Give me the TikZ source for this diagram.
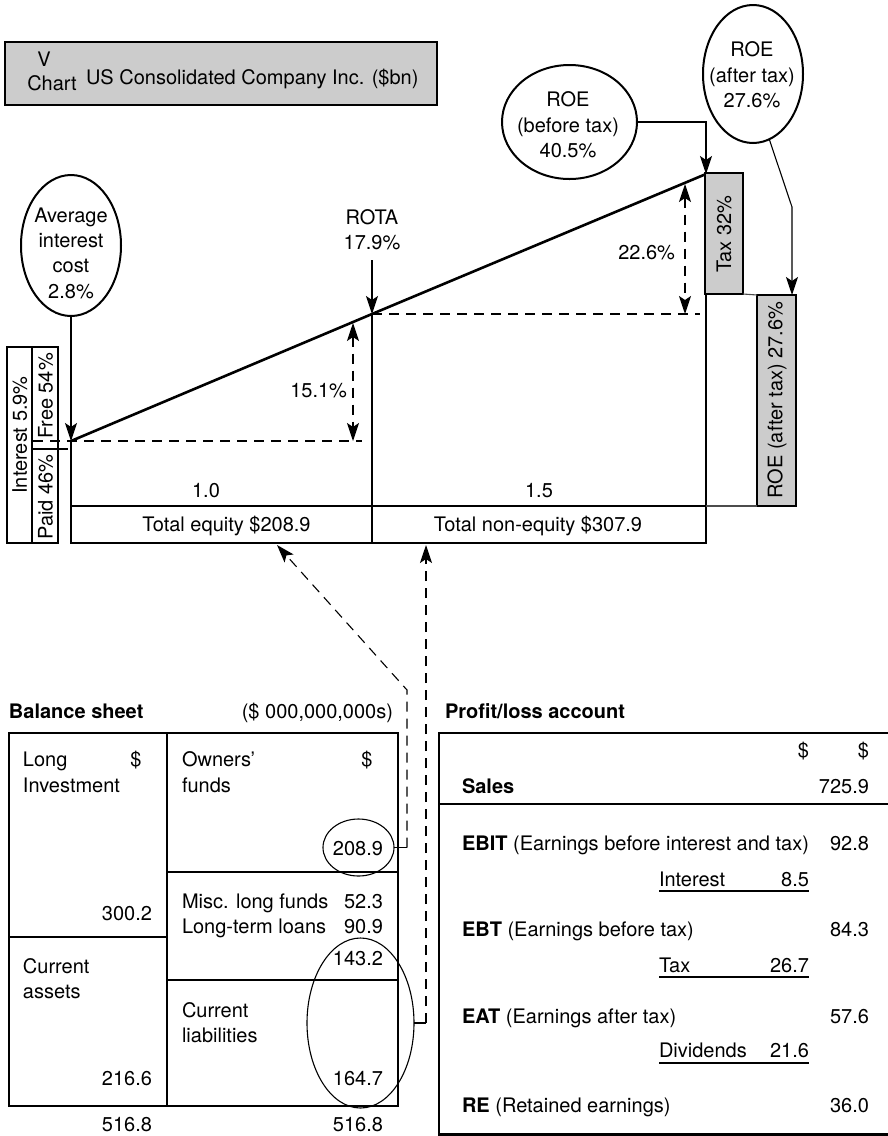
\documentclass[tikz,border=0pt]{standalone}
\usepackage{fontspec}
\setmainfont{TeX Gyre Heros}
\usetikzlibrary{shapes.geometric,arrows.meta}
\definecolor{boxgray}{HTML}{CCCCCC}
\newcommand\fsz{\fontsize{20}{25.3}\selectfont}
\begin{document}
\begin{tikzpicture}[x=1pt,y=-1pt,
  >={Stealth[length=18pt,width=12pt,inset=4pt]},
  every node/.style={font=\fsz, inner sep=0pt, outer sep=0pt},
  thk/.style={line width=2.6pt},
  med/.style={line width=1.6pt},
  thn/.style={line width=1.1pt},
  dsh/.style={line width=1.1pt, dash pattern=on 10pt off 7pt},
  oval/.style={ellipse, draw, line width=2pt},
  soval/.style={ellipse, draw, line width=1.1pt},
  gbox/.style={draw, line width=1.5pt, fill=boxgray},
  lt/.style={anchor=base west},
  rt/.style={anchor=base east},
  ct/.style={anchor=base},
]
\useasboundingbox (0,0) rectangle (887,1136);

% ---------- title ----------
\node[gbox, anchor=north west, minimum width=432pt, minimum height=63pt] (title) at (5,42) {};
\node[ct] (tv) at (44,66) {V};
\node[ct] (tc) at (52,90) {Chart};
\node[lt] (tt) at (86,84) {US Consolidated Company Inc. (\$bn)};

% ---------- V chart ----------
\coordinate (A) at (71,441);
\coordinate (R) at (372,314);
\coordinate (T) at (706,174);
\node[draw, thk, anchor=north west, minimum width=301pt, minimum height=37pt] (teqbox) at (71,506) {};
\node[draw, thk, anchor=north west, minimum width=334pt, minimum height=37pt] (tneqbox) at (372,506) {};
\draw[thk] (A) -- (teqbox.north west);
\draw[thk] (R) -- (teqbox.north east);
\draw[thk] (T) -- (tneqbox.north east);
\draw[thk, line join=round] (A) -- (R) -- (T);

\node[ct] (one) at (206,497) {1.0};
\node[ct] (onefive) at (539,497) {1.5};
\node[ct] (teq) at (226.5,531) {Total equity \$208.9};
\node[ct] (tneq) at (538,531) {Total non-equity \$307.9};

% dashed reference lines
\coordinate (h1a) at (33,441);
\coordinate (h1b) at (362,441);
\coordinate (h2b) at (700,314);
\draw[dsh] (h1a) -- (h1b);
\draw[dsh] (R) -- (h2b);

% dashed double arrows
\coordinate (p1a) at (353,323);
\coordinate (p1b) at (353,441);
\coordinate (p2a) at (685,184);
\coordinate (p2b) at (685,314);
\draw[dsh,<->] (p1a) -- (p1b);
\draw[dsh,<->] (p2a) -- (p2b);
\node[rt] (l151) at (347,397) {15.1\%};
\node[rt] (l226) at (675,259) {22.6\%};

% left interest boxes
\node[draw, med, anchor=north west, minimum width=25pt, minimum height=196pt] (ibox) at (7,347) {};
\node[draw, med, anchor=north west, minimum width=26pt, minimum height=102pt] (fbox) at (32,347) {};
\node[draw, med, anchor=north west, minimum width=26pt, minimum height=94pt] (pbox) at (32,449) {};
\coordinate (fpx) at (68,449);
\draw[thn] (pbox.north west) -- (fpx);
\node[rotate=90] (itxt) at (19.7,435) {Interest 5.9\%};
\node[rotate=90] (ftxt) at (45.5,396) {Free 54\%};
\node[rotate=90] (ptxt) at (45.5,497) {Paid 46\%};

% average interest cost
\node[oval, minimum width=100pt, minimum height=141pt] (aic) at (71,245.5) {};
\node[align=center] (aict) at (71,253) {Average\\interest\\cost\\2.8\%};
\draw[thn,->] (aic.south) -- (A);

% ROTA
\node[align=center] (rota) at (372,229.5) {ROTA\\17.9\%};
\coordinate (rotas) at (372,260);
\draw[thn,->] (rotas) -- (R);

% ROE before tax
\node[oval, minimum width=135pt, minimum height=114pt] (rb) at (569.5,122) {};
\node[align=center] (rbt) at (568,125) {ROE\\(before tax)\\40.5\%};
\draw[thn,->] (rb.east) -| (T);

% tax box and ROE after tax box
\node[gbox, anchor=north west, minimum width=38pt, minimum height=121pt] (taxbox) at (705,173) {};
\node[rotate=90] (taxt) at (724,234) {Tax 32\%};
\node[gbox, anchor=north west, minimum width=39pt, minimum height=211pt] (roebox) at (757,295) {};
\node[rotate=90] (roet) at (777,400) {ROE (after tax) 27.6\%};
\draw[thn, black!70] (taxbox.south east) -- (roebox.north west);
\draw[thn, black!70] (tneqbox.north east) -- (roebox.south west);

% ROE after tax
\node[oval, minimum width=100pt, minimum height=138pt] (ra) at (753,74) {};
\node[align=center] (rat) at (752,75) {ROE\\(after tax)\\27.6\%};
\coordinate (rak) at (792,207);
\coordinate (rtip) at (792,295);
\draw[thn,->] (ra.-76) -- (rak) -- (rtip);

% ---------- balance sheet ----------
\node[lt, font=\fsz\bfseries] (bsh) at (9,718) {Balance sheet};
\node[rt] (bsu) at (393,718) {(\$ 000,000,000s)};
\node[draw, thk, anchor=north west, minimum width=389pt, minimum height=373pt] (bs) at (9,733) {};
\coordinate (bsm1) at (167,733);
\coordinate (bsm2) at (167,1106);
\draw[med] (bsm1) -- (bsm2);
\coordinate (bl1) at (9,937);
\coordinate (bl2) at (167,937);
\draw[med] (bl1) -- (bl2);
\coordinate (br1) at (167,872);
\coordinate (br2) at (398,872);
\coordinate (br3) at (167,980);
\coordinate (br4) at (398,980);
\draw[med] (br1) -- (br2);
\draw[med] (br3) -- (br4);

\node[lt] (b1) at (23,766) {Long};
\node[ct] (b2) at (136,766) {\$};
\node[lt] (b3) at (23,792) {Investment};
\node[rt] (b4) at (152,920) {300.2};
\node[lt] (b5) at (23,973) {Current};
\node[lt] (b6) at (23,998) {assets};
\node[rt] (b7) at (152,1085) {216.6};
\node[lt] (b8) at (182,766) {Owners'};
\node[ct] (b9) at (367,766) {\$};
\node[lt] (b10) at (182,792) {funds};
\node[rt] (b11) at (383,855) {208.9};
\node[lt] (b12) at (182,908) {Misc. long funds};
\node[rt] (b13) at (383,908) {52.3};
\node[lt] (b14) at (182,933) {Long-term loans};
\node[rt] (b15) at (383,933) {90.9};
\node[rt] (b16) at (383,965) {143.2};
\node[lt] (b17) at (182,1017) {Current};
\node[lt] (b18) at (182,1042) {liabilities};
\node[rt] (b19) at (383,1085) {164.7};
\node[rt] (b20) at (152,1131) {516.8};
\node[rt] (b21) at (383,1131) {516.8};

\node[soval, minimum width=71pt, minimum height=57pt] (e1) at (358.5,847.5) {};
\node[soval, minimum width=107pt, minimum height=170pt] (e2) at (360.5,1023) {};

% dashed links to the V chart
\coordinate (d1a) at (407,847.5);
\coordinate (d1b) at (407,690);
\coordinate (d1t) at (277,545);
\draw[thn] (e1.east) -- (d1a);
\draw[dsh,->] (d1a) -- (d1b) -- (d1t);
\coordinate (d2a) at (426,1023);
\coordinate (d2t) at (426,545);
\draw[thn] (e2.east) -- (d2a);
\draw[dsh,->] (d2a) -- (d2t);

% ---------- profit / loss ----------
\node[lt, font=\fsz\bfseries] (plh) at (445,718) {Profit/loss account};
\coordinate (pl1) at (890,733);
\coordinate (pl2) at (439,733);
\coordinate (pl3) at (439,1134.5);
\coordinate (pl4) at (890,1134.5);
\draw[thk] (pl1) -- (pl2) -- (pl3) -- (pl4);
\coordinate (pl5) at (439,804);
\coordinate (pl6) at (890,804);
\draw[med] (pl5) -- (pl6);

\node[rt] (q1) at (809,757) {\$};
\node[rt] (q2) at (869,757) {\$};
\node[lt] (q3) at (462,793) {\textbf{Sales}};
\node[rt] (q4) at (869,793) {725.9};
\node[lt] (q5) at (462,850) {\textbf{EBIT} (Earnings before interest and tax)};
\node[rt] (q6) at (869,850) {92.8};
\node[lt] (q7) at (659,886) {Interest};
\node[rt] (q8) at (809,886) {8.5};
\node[lt] (q9) at (462,936) {\textbf{EBT} (Earnings before tax)};
\node[rt] (q10) at (869,936) {84.3};
\node[lt] (q11) at (659,972) {Tax};
\node[rt] (q12) at (809,972) {26.7};
\node[lt] (q13) at (462,1023) {\textbf{EAT} (Earnings after tax)};
\node[rt] (q14) at (869,1023) {57.6};
\node[lt] (q15) at (659,1057) {Dividends};
\node[rt] (q16) at (809,1057) {21.6};
\node[lt] (q17) at (462,1112) {\textbf{RE} (Retained earnings)};
\node[rt] (q18) at (869,1112) {36.0};
\coordinate (u1a) at (659,891);
\coordinate (u1b) at (809,891);
\coordinate (u2a) at (659,977);
\coordinate (u2b) at (809,977);
\coordinate (u3a) at (659,1063);
\coordinate (u3b) at (809,1063);
\draw[med] (u1a) -- (u1b);
\draw[med] (u2a) -- (u2b);
\draw[med] (u3a) -- (u3b);
\end{tikzpicture}
\end{document}
